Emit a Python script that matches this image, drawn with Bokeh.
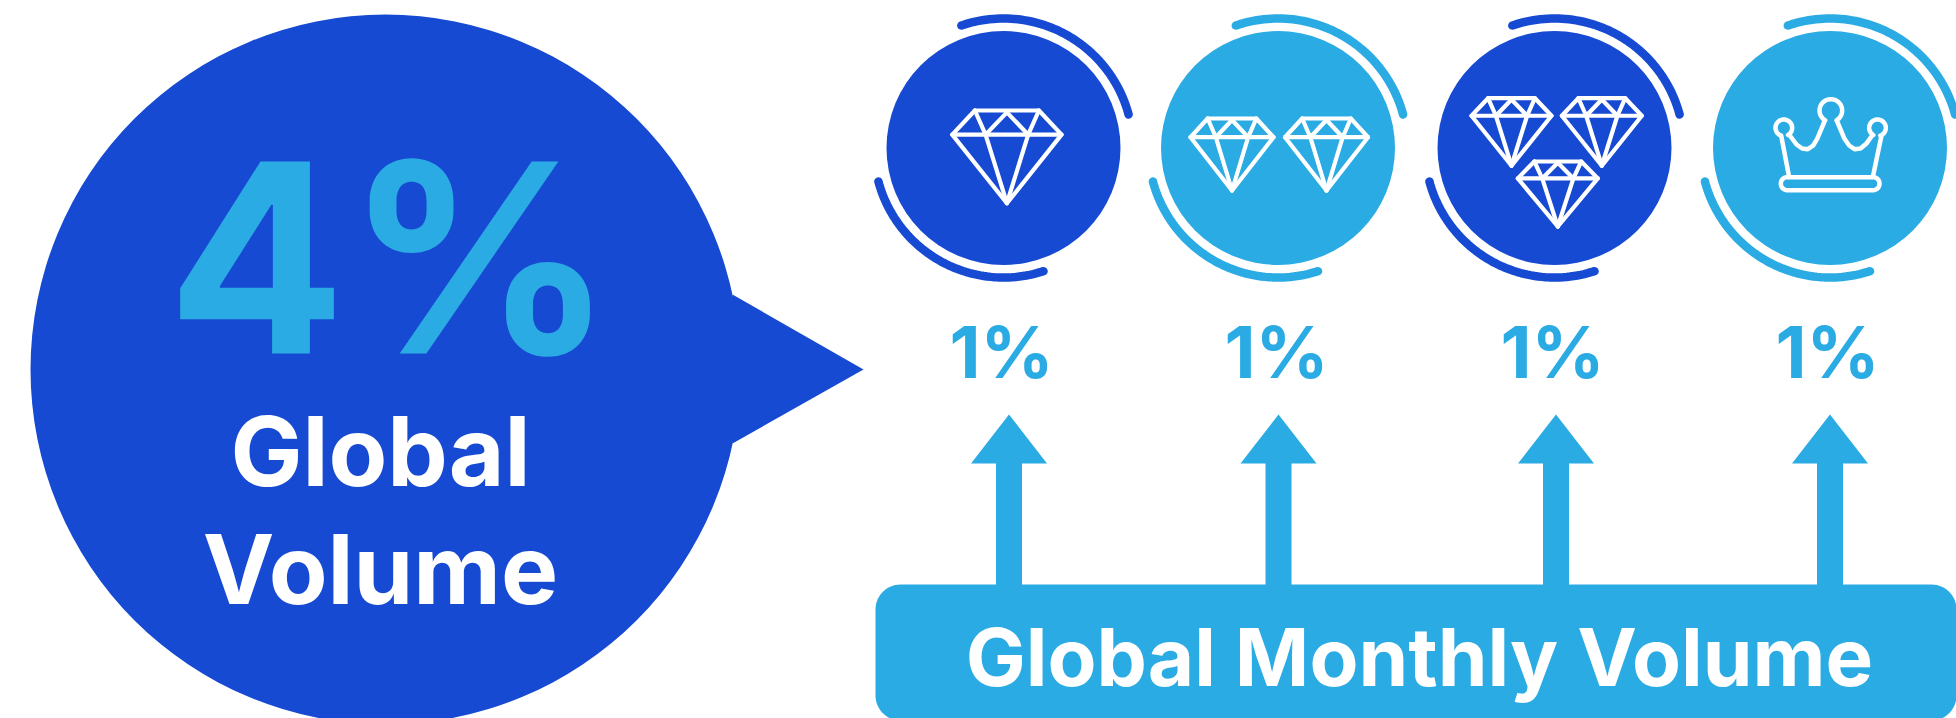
import numpy as np
from bokeh.plotting import figure
from bokeh.models import Range1d
from bokeh.core.properties import value
from bokeh.embed import file_html
from bokeh.resources import INLINE

W, H = 1956, 718
BLUE = "#174AD3"
SKY = "#2BABE3"
FONT = "Inter"

TOTAL_LABEL = "4%"
TOTAL_CAPTION = ["Global", "Volume"]
SEGMENT_LABELS = ["1%", "1%", "1%", "1%"]
SOURCE_LABEL = "Global Monthly Volume"

CIRCLE_X = [1003, 1277.5, 1554, 1829.5]
CIRCLE_COL = [BLUE, SKY, BLUE, SKY]
LABEL_X = [1001, 1276, 1552, 1827]
ARROW_X = [1008.5, 1278, 1555.5, 1829.5]
# diamonds: centre x, top y, width, height
DIAMOND_X = [1006.4, 1231.5, 1326, 1511, 1601.3, 1557.3]
DIAMOND_TOP = [110, 118, 118, 97.7, 97.7, 161]
DIAMOND_W = [109.3, 83, 83, 80, 80, 80]
DIAMOND_H = [92.7, 72, 72, 67.5, 67.5, 65]

p = figure(width=W, height=H, output_backend="svg", toolbar_location=None,
           x_range=Range1d(0, W), y_range=Range1d(H, 0), min_border=0,
           outline_line_color=None, background_fill_color="white",
           border_fill_color="white", tools="")
p.styles = {"position": "fixed", "left": "0", "top": "0"}
p.axis.visible = False
p.grid.visible = False


def arc(cx, cy, r, a0, a1, n=60):
    t = np.radians(np.linspace(a0, a1, n))
    return list(cx + r * np.cos(t)), list(cy + r * np.sin(t))


def rrect(x0, y0, x1, y1, r):
    xs, ys = [], []
    for cx, cy, a in [(x1 - r, y0 + r, -90), (x1 - r, y1 - r, 0),
                      (x0 + r, y1 - r, 90), (x0 + r, y0 + r, 180)]:
        ax, ay = arc(cx, cy, r, a, a + 90, 16)
        xs += ax
        ys += ay
    return xs + xs[:1], ys + ys[:1]


def label(x, y_mid, txt, color, size):
    p.text(x, y_mid, text=txt, text_color=color, text_font=value(FONT),
           text_font_style="bold", text_font_size=value(f"{size}px"),
           text_align="center", text_baseline="middle")


# speech bubble
p.circle([385], [369], radius=355, fill_color=BLUE, line_color=None)
p.patch([732, 863, 732], [294, 369, 443], fill_color=BLUE, line_color=None)
label([390], [257], [TOTAL_LABEL], SKY, 264)
label([380, 380], [450, 568], TOTAL_CAPTION, "white", 96)

# circles and rings
for cx, col in zip(CIRCLE_X, CIRCLE_COL):
    p.circle([cx], [147.5], radius=117, fill_color=col, line_color=None)
    ax, ay = arc(cx, 147.5, 129.5, -109, -15)
    p.line(ax, ay, line_color=col, line_width=8.5, line_cap="round")
    ax, ay = arc(cx, 147.5, 129.5, 72, 165)
    p.line(ax, ay, line_color=col, line_width=8.5, line_cap="round")

# diamond icons
for cx, top, w, h in zip(DIAMOND_X, DIAMOND_TOP, DIAMOND_W, DIAMOND_H):
    xs = [[-.293, .293, .5, 0, -.5, -.293], [-.5, .5], [-.293, -.195, 0],
          [.293, .195, 0], [-.195, 0, .195]]
    ys = [[0, 0, .26, 1, .26, 0], [.26, .26], [0, .26, 1], [0, .26, 1], [.26, .02, .26]]
    p.multi_line([[cx + w * v for v in l] for l in xs],
                 [[top + h * v for v in l] for l in ys],
                 line_color="white", line_width=4.2, line_join="round", line_cap="round")

# crown icon (drawn in a local frame, 3 units per pixel)
cr_x, cr_y = [115.0, 92.0], [255.0, 135.0]
ax, ay = arc(100, 112, 25, 110, 420, 40)
cr_x += ax + [118, 138, 155, 172, 188, 200, 222]
cr_y += ay + [135, 162, 174, 176, 165, 145, 93]
ax, ay = arc(241, 60, 34, 120, 420, 40)
cr_x += ax + [260, 282, 296, 312, 330, 347, 365]
cr_y += ay + [93, 145, 165, 176, 174, 160, 135]
ax, ay = arc(381, 112, 25, 120, 430, 40)
cr_x += ax + [393, 368]
cr_y += ay + [135, 255]
bx, by = rrect(91, 260, 387, 299, 19)
p.multi_line([[1750 + v / 3 for v in cr_x], [1750 + v / 3 for v in bx]],
             [[90 + v / 3 for v in cr_y], [90 + v / 3 for v in by]],
             line_color="white", line_width=4.5, line_join="round", line_cap="round")

# percentage labels
label(LABEL_X, [351] * 4, SEGMENT_LABELS, SKY, 72)

# arrows
for ax0 in ARROW_X:
    p.patch([ax0, ax0 + 38, ax0 + 13, ax0 + 13, ax0 - 13, ax0 - 13, ax0 - 38],
            [414, 463, 463, 590, 590, 463, 463], fill_color=SKY, line_color=None)

# source box
bx, by = rrect(875, 584, 1956, 720, 25)
p.patch(bx, by, fill_color=SKY, line_color=None)
label([1419], [656], [SOURCE_LABEL], "white", 80)

open("out.html", "w").write(file_html(p, INLINE))
